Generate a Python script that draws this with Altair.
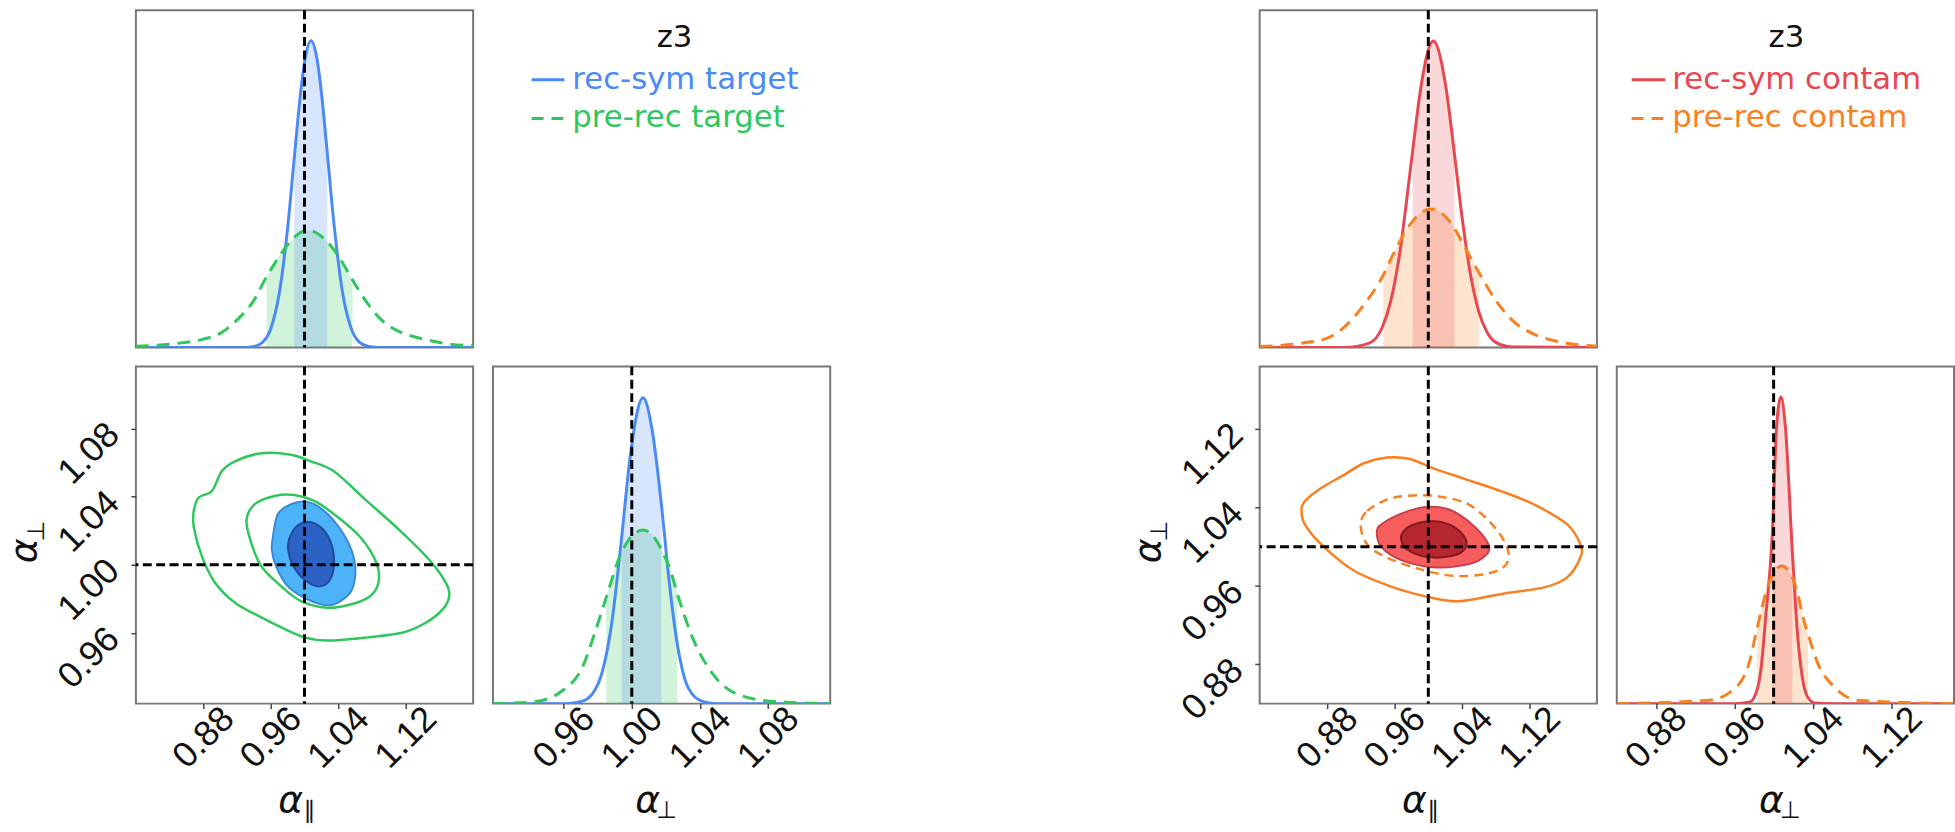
import altair as alt
import pandas as pd

# ---------------- colours ----------------
BLUE = "#4a8af4"
GREEN = "#2fc75c"
RED = "#e9474f"
ORANGE = "#f98020"
BLUE_95, BLUE_68 = "#4db3f8", "#2c62c4"
BLUE_95_EDGE, BLUE_68_EDGE = "#3a8ad8", "#22499a"
RED_95, RED_68 = "#f75d5d", "#b5262e"
RED_95_EDGE, RED_68_EDGE = "#c4404c", "#7e1a22"
FRAME = "#777777"
FONT = "DejaVu Sans"

# ---------------- panel ranges and ticks ----------------
par_range = [0.80, 1.20]
perp_range_t = [0.9185, 1.1165]
perp_range_c = [0.84, 1.184]
par_ticks = [0.88, 0.96, 1.04, 1.12]
perp_ticks_t = [0.96, 1.00, 1.04, 1.08]
perp_ticks_c = [0.88, 0.96, 1.04, 1.12]
truth = [1.0]

legend_title = "z3"
labels_t = ["rec-sym target", "pre-rec target"]
labels_c = ["rec-sym contam", "pre-rec contam"]
sym_alpha = "α"
sub_par = "∥"
sub_perp = "⊥"

# ---------------- 1D marginals: x value, density height ----------------
# target, alpha_parallel
par_x_rec_t = [0.80, 0.93, 0.94, 0.95, 0.96, 0.97, 0.98, 0.988, 0.995, 1.0, 1.0077, 1.015, 1.02, 1.027, 1.035, 1.045, 1.055, 1.065, 1.075, 1.09, 1.20]
par_h_rec_t = [0.0, 0.0, 0.003, 0.015, 0.056, 0.16, 0.355, 0.566, 0.747, 0.846, 0.91, 0.853, 0.757, 0.577, 0.365, 0.165, 0.059, 0.016, 0.004, 0.0, 0.0]
par_band_rec_t = [0.988, 1.027]
par_x_pre_t = [0.80, 0.84, 0.88, 0.90, 0.92, 0.94, 0.955, 0.97, 0.985, 1.004, 1.02, 1.04, 1.057, 1.075, 1.09, 1.11, 1.13, 1.15, 1.17, 1.20]
par_h_pre_t = [0.004, 0.010, 0.025, 0.042, 0.082, 0.14, 0.21, 0.27, 0.32, 0.348, 0.330, 0.272, 0.20, 0.13, 0.085, 0.05, 0.032, 0.02, 0.011, 0.005]
par_band_pre_t = [0.955, 1.057]

# target, alpha_perp
per_x_rec_t = [0.9185, 0.96, 0.97, 0.977, 0.983, 0.988, 0.994, 0.999, 1.0066, 1.012, 1.0174, 1.022, 1.026, 1.031, 1.036, 1.042, 1.05, 1.1165]
per_h_rec_t = [0.0, 0.0, 0.006, 0.03, 0.10, 0.23, 0.49, 0.73, 0.907, 0.81, 0.59, 0.36, 0.2, 0.075, 0.025, 0.006, 0.0, 0.0]
per_band_rec_t = [0.994, 1.0174]
per_x_pre_t = [0.9185, 0.942, 0.9594, 0.971, 0.9787, 0.985, 0.9941, 1.0066, 1.0172, 1.023, 1.0268, 1.0365, 1.048, 1.0634, 1.0865, 1.1165]
per_h_pre_t = [0.0, 0.005, 0.039, 0.108, 0.216, 0.315, 0.45, 0.515, 0.46, 0.39, 0.325, 0.186, 0.085, 0.025, 0.005, 0.0]
per_band_pre_t = [0.985, 1.0268]

# contam, alpha_parallel
par_x_rec_c = [0.80, 0.90, 0.93, 0.945, 0.955, 0.965, 0.9815, 0.99, 1.006, 1.02, 1.031, 1.04, 1.05, 1.06, 1.07, 1.085, 1.10, 1.20]
par_h_rec_c = [0.0, 0.0, 0.013, 0.058, 0.133, 0.262, 0.584, 0.752, 0.909, 0.786, 0.574, 0.387, 0.217, 0.105, 0.044, 0.009, 0.002, 0.0]
par_band_rec_c = [0.9815, 1.031]
par_x_pre_c = [0.80, 0.85, 0.88, 0.90, 0.92, 0.9466, 0.96, 0.98, 1.003, 1.025, 1.045, 1.0605, 1.08, 1.10, 1.125, 1.15, 1.175, 1.20]
par_h_pre_c = [0.003, 0.013, 0.028, 0.06, 0.115, 0.215, 0.285, 0.37, 0.411, 0.375, 0.29, 0.22, 0.14, 0.08, 0.04, 0.02, 0.009, 0.004]
par_band_pre_c = [0.9466, 1.0605]

# contam, alpha_perp
per_x_rec_c = [0.84, 0.96, 0.975, 0.982, 0.987, 0.992, 0.9986, 1.003, 1.0075, 1.012, 1.0191, 1.024, 1.029, 1.035, 1.042, 1.06, 1.184]
per_h_rec_c = [0.0, 0.0, 0.004, 0.031, 0.10, 0.26, 0.50, 0.82, 0.909, 0.82, 0.45, 0.22, 0.083, 0.018, 0.002, 0.0, 0.0]
per_band_rec_c = [0.9986, 1.0191]
per_x_pre_c = [0.84, 0.9344, 0.958, 0.9748, 0.9832, 0.9949, 1.0084, 1.0218, 1.0319, 1.0352, 1.0453, 1.0621, 1.0856, 1.184]
per_h_pre_c = [0.0, 0.01, 0.039, 0.118, 0.225, 0.354, 0.408, 0.354, 0.236, 0.205, 0.118, 0.049, 0.01, 0.0]
per_band_pre_c = [0.9832, 1.0352]

# ---------------- 2D contours: (alpha_par, alpha_perp) vertices ----------------
pre_t_95_x = [0.8687, 0.8746, 0.890, 0.9019, 0.9175, 0.9488, 0.984, 1.0075, 1.0348, 1.0739, 1.113, 1.1482, 1.1678, 1.1717, 1.1639, 1.1443, 1.117, 1.0739, 1.027, 1.0, 0.9766, 0.9453, 0.9175, 0.8941, 0.8784, 0.8687]
pre_t_95_y = [1.0318, 1.0395, 1.0433, 1.0549, 1.0607, 1.0655, 1.0646, 1.0607, 1.0549, 1.0375, 1.0202, 1.0028, 0.9893, 0.9816, 0.9738, 0.9661, 0.9603, 0.9574, 0.9555, 0.9574, 0.9623, 0.9700, 0.9777, 0.9893, 1.0048, 1.0221]
pre_t_68_x = [0.9312, 0.941, 0.9645, 0.9879, 1.0114, 1.0348, 1.0661, 1.0856, 1.0876, 1.0778, 1.0544, 1.027, 0.9957, 0.9723, 0.9489, 0.9371]
pre_t_68_y = [1.026, 1.0356, 1.0404, 1.041, 1.0375, 1.0298, 1.0163, 1.0008, 0.9893, 0.9816, 0.9767, 0.9748, 0.9787, 0.9874, 0.999, 1.0125]
rec_t_95_x = [0.9625, 0.9684, 0.984, 0.9997, 1.0153, 1.0348, 1.0524, 1.0602, 1.0563, 1.0426, 1.027, 1.0036, 0.9801, 0.9664, 0.9613]
rec_t_95_y = [1.0163, 1.0298, 1.0356, 1.0372, 1.0346, 1.026, 1.0125, 0.999, 0.9855, 0.9787, 0.9762, 0.9797, 0.9874, 0.999, 1.0086]
rec_t_68_x = [0.982, 0.9918, 1.0075, 1.0231, 1.0329, 1.0348, 1.029, 1.0153, 0.9977, 0.986, 0.9809]
rec_t_68_y = [1.0154, 1.0231, 1.025, 1.0202, 1.0106, 0.999, 0.9903, 0.9874, 0.9922, 1.0, 1.0077]

pre_c_95_x = [0.8497, 0.8536, 0.873, 0.9002, 0.9236, 0.9508, 0.978, 1.0053, 1.0403, 1.0869, 1.1258, 1.1647, 1.1803, 1.1803, 1.1647, 1.1375, 1.0869, 1.0364, 1.0014, 0.9586, 0.9119, 0.873, 0.8536]
pre_c_95_y = [1.0363, 1.0464, 1.0599, 1.0734, 1.0852, 1.091, 1.0896, 1.0802, 1.07, 1.0565, 1.043, 1.0228, 1.0025, 0.989, 0.9688, 0.9586, 0.9519, 0.9444, 0.9485, 0.9586, 0.9755, 1.0025, 1.0228]
pre_c_68_x = [0.9197, 0.9275, 0.9508, 0.978, 1.0111, 1.0481, 1.0792, 1.0947, 1.0908, 1.0675, 1.0286, 0.9897, 0.9508, 0.9275]
pre_c_68_y = [1.0228, 1.0363, 1.0481, 1.0521, 1.0515, 1.043, 1.0194, 0.9958, 0.9806, 0.9721, 0.9704, 0.9772, 0.989, 1.0025]
rec_c_95_x = [0.939, 0.9469, 0.9702, 0.9975, 1.0247, 1.0519, 1.0714, 1.0675, 1.0481, 1.0092, 0.9702, 0.945]
rec_c_95_y = [1.016, 1.0245, 1.0346, 1.0407, 1.038, 1.0228, 1.0025, 0.9907, 0.9823, 0.9789, 0.9856, 0.9991]
rec_c_68_x = [0.9683, 0.978, 1.0014, 1.0247, 1.0422, 1.0442, 1.0286, 0.9975, 0.9742, 0.9683]
rec_c_68_y = [1.0126, 1.0211, 1.0261, 1.0228, 1.011, 0.9991, 0.9907, 0.9897, 0.9975, 1.0059]

PANEL = 340
LABEL_SIZE = 36
SYM_SIZE = 38
SUB_SIZE = 24
LEG_SIZE = 31
PANEL_VIEW = alt.ViewBackground(stroke=FRAME, strokeWidth=2)


def curve(xs, hs):
    return pd.DataFrame({"x": xs, "h": hs})


def band(xs, hs, lims):
    df = curve(xs, hs)
    return df[(df.x >= lims[0]) & (df.x <= lims[1])]


def poly(xs, ys):
    return pd.DataFrame({"x": xs, "y": ys, "i": list(range(len(xs)))})


def x_axis(ticks):
    return alt.Axis(values=ticks, format=".2f", labelAngle=315, labelAlign="center",
                    labelBaseline="middle", labelPadding=29, labelOverlap=False,
                    labelFlush=False, tickSize=5, tickWidth=1.5, tickColor="#444",
                    domain=False, grid=False, labelFontSize=LABEL_SIZE, labelColor="#111",
                    title=None)


def y_axis(ticks):
    return alt.Axis(values=ticks, format=".2f", labelAngle=315, labelAlign="right",
                    labelBaseline="middle", labelPadding=18, labelOverlap=False,
                    labelFlush=False, tickSize=5, tickWidth=1.5, tickColor="#444",
                    domain=False, grid=False, labelFontSize=LABEL_SIZE, labelColor="#111",
                    title=None)


def text_at(txt, size, x, y, italic=False, angle=0):
    mk = dict(fontSize=size, font=FONT, color="#111", align="center", baseline="middle")
    if italic:
        mk["fontStyle"] = "italic"
    if angle:
        mk["angle"] = angle
    return alt.Chart(pd.DataFrame({"t": [txt]})).mark_text(**mk).encode(
        text="t:N", x=alt.value(x), y=alt.value(y))


def x_title(sub):
    # alpha with a lowered subscript, centred under the panel
    return [text_at(sym_alpha, SYM_SIZE, 156, 438, italic=True),
            text_at(sub, SUB_SIZE, 175, 448)]


def y_title(sub):
    return [text_at(sym_alpha, SYM_SIZE, -112, 186, italic=True, angle=270),
            text_at(sub, SUB_SIZE, -100, 166, angle=270)]


def marginal(solid, dashed, dom, ticks, sub, c_solid, c_dashed):
    """solid / dashed = (xs, hs, band limits)."""
    xs = alt.Scale(domain=dom, nice=False, zero=False)
    ys = alt.Scale(domain=[0, 1], nice=False, zero=True)
    X = alt.X("x:Q", scale=xs, axis=x_axis(ticks) if ticks else None)
    Y = alt.Y("h:Q", scale=ys, axis=None)
    layers = [
        alt.Chart(band(*dashed)).mark_area(color=c_dashed, opacity=0.22, interpolate="monotone", clip=True).encode(x=X, y=Y),
        alt.Chart(band(*solid)).mark_area(color=c_solid, opacity=0.22, interpolate="monotone", clip=True).encode(x=X, y=Y),
        alt.Chart(curve(*solid[:2])).mark_line(color=c_solid, strokeWidth=3, interpolate="monotone", clip=True).encode(x=X, y=Y),
        alt.Chart(curve(*dashed[:2])).mark_line(color=c_dashed, strokeWidth=3, strokeDash=[13, 8], interpolate="monotone", clip=True).encode(x=X, y=Y),
        alt.Chart(pd.DataFrame({"x": truth})).mark_rule(color="black", strokeWidth=3, strokeDash=[9, 4.5]).encode(x=alt.X("x:Q", scale=xs)),
    ]
    if ticks:
        layers += x_title(sub)
    return alt.layer(*layers).properties(width=PANEL, height=PANEL, view=PANEL_VIEW)


def contour_fill(df, fill, edge, xs, ys):
    return alt.Chart(df).mark_line(fill=fill, stroke=edge, strokeWidth=2, interpolate="cardinal-closed", clip=True).encode(
        x=alt.X("x:Q", scale=xs), y=alt.Y("y:Q", scale=ys), order=alt.Order("i:Q"))


def contour_line(df, color, dash, xs, ys):
    mk = dict(color=color, strokeWidth=2.5, interpolate="cardinal-closed", clip=True)
    if dash:
        mk["strokeDash"] = dash
    return alt.Chart(df).mark_line(**mk).encode(
        x=alt.X("x:Q", scale=xs), y=alt.Y("y:Q", scale=ys), order=alt.Order("i:Q"))


def joint(lines, fills, ydom, yticks):
    xs = alt.Scale(domain=par_range, nice=False, zero=False)
    ys = alt.Scale(domain=ydom, nice=False, zero=False)
    base = alt.Chart(pd.DataFrame({"x": truth, "y": truth}))
    layers = [
        base.mark_point(opacity=0).encode(x=alt.X("x:Q", scale=xs, axis=x_axis(par_ticks)),
                                          y=alt.Y("y:Q", scale=ys, axis=y_axis(yticks))),
    ]
    layers += [contour_line(df, c, d, xs, ys) for df, c, d in lines]
    layers += [contour_fill(df, f, e, xs, ys) for df, f, e in fills]
    layers += [
        base.mark_rule(color="black", strokeWidth=3, strokeDash=[9, 4.5]).encode(x=alt.X("x:Q", scale=xs)),
        base.mark_rule(color="black", strokeWidth=3, strokeDash=[9, 4.5]).encode(y=alt.Y("y:Q", scale=ys)),
    ]
    layers += x_title(sub_par) + y_title(sub_perp)
    return alt.layer(*layers).properties(width=PANEL, height=PANEL, view=PANEL_VIEW)


def legend(labels, c_solid, c_dashed, x_line, x_text, x_title_pos):
    one = pd.DataFrame({"t": [legend_title]})
    rows = [
        alt.Chart(one).mark_text(fontSize=LEG_SIZE, font=FONT, color="#111", align="center", baseline="middle").encode(
            text="t:N", x=alt.value(x_title_pos), y=alt.value(28)),
    ]
    for lab, col, dash, yy in [(labels[0], c_solid, None, 70), (labels[1], c_dashed, [12, 8], 109)]:
        mk = dict(color=col, strokeWidth=3)
        if dash:
            mk["strokeDash"] = dash
        rows.append(alt.Chart(one).mark_rule(**mk).encode(
            x=alt.value(x_line[0]), x2=alt.value(x_line[1]), y=alt.value(yy)))
        rows.append(alt.Chart(pd.DataFrame({"t": [lab]})).mark_text(
            fontSize=LEG_SIZE, font=FONT, color=col, align="left", baseline="middle").encode(
            text="t:N", x=alt.value(x_text), y=alt.value(yy)))
    return alt.layer(*rows).properties(width=PANEL, height=PANEL,
                                       view=alt.ViewBackground(strokeOpacity=0))


def corner(top, leg, mid, side):
    return alt.concat(top, leg, mid, side, columns=2, spacing={"row": 13, "column": 16})


# ---------------- target corner ----------------
top_t = marginal((par_x_rec_t, par_h_rec_t, par_band_rec_t), (par_x_pre_t, par_h_pre_t, par_band_pre_t),
                 par_range, None, None, BLUE, GREEN)
side_t = marginal((per_x_rec_t, per_h_rec_t, per_band_rec_t), (per_x_pre_t, per_h_pre_t, per_band_pre_t),
                  perp_range_t, perp_ticks_t, sub_perp, BLUE, GREEN)
mid_t = joint(
    [(poly(pre_t_95_x, pre_t_95_y), GREEN, None), (poly(pre_t_68_x, pre_t_68_y), GREEN, None)],
    [(poly(rec_t_95_x, rec_t_95_y), BLUE_95, BLUE_95_EDGE), (poly(rec_t_68_x, rec_t_68_y), BLUE_68, BLUE_68_EDGE)],
    perp_range_t, perp_ticks_t)
leg_t = legend(labels_t, BLUE, GREEN, (39, 72), 80, 183)

# ---------------- contam corner ----------------
top_c = marginal((par_x_rec_c, par_h_rec_c, par_band_rec_c), (par_x_pre_c, par_h_pre_c, par_band_pre_c),
                 par_range, None, None, RED, ORANGE)
side_c = marginal((per_x_rec_c, per_h_rec_c, per_band_rec_c), (per_x_pre_c, per_h_pre_c, per_band_pre_c),
                  perp_range_c, perp_ticks_c, sub_perp, RED, ORANGE)
mid_c = joint(
    [(poly(pre_c_95_x, pre_c_95_y), ORANGE, None), (poly(pre_c_68_x, pre_c_68_y), ORANGE, [9, 6])],
    [(poly(rec_c_95_x, rec_c_95_y), RED_95, RED_95_EDGE), (poly(rec_c_68_x, rec_c_68_y), RED_68, RED_68_EDGE)],
    perp_range_c, perp_ticks_c)
leg_c = legend(labels_c, RED, ORANGE, (15, 49), 56, 171)

chart = alt.hconcat(
    corner(top_t, leg_t, mid_t, side_t),
    corner(top_c, leg_c, mid_c, side_c),
    spacing=300,
).properties(
    padding={"left": 5, "top": 4, "right": 0, "bottom": 0}
).configure_axis(
    labelFont=FONT
).configure(background="white")

chart.save("out.html", embed_options={"renderer": "svg", "actions": False})
